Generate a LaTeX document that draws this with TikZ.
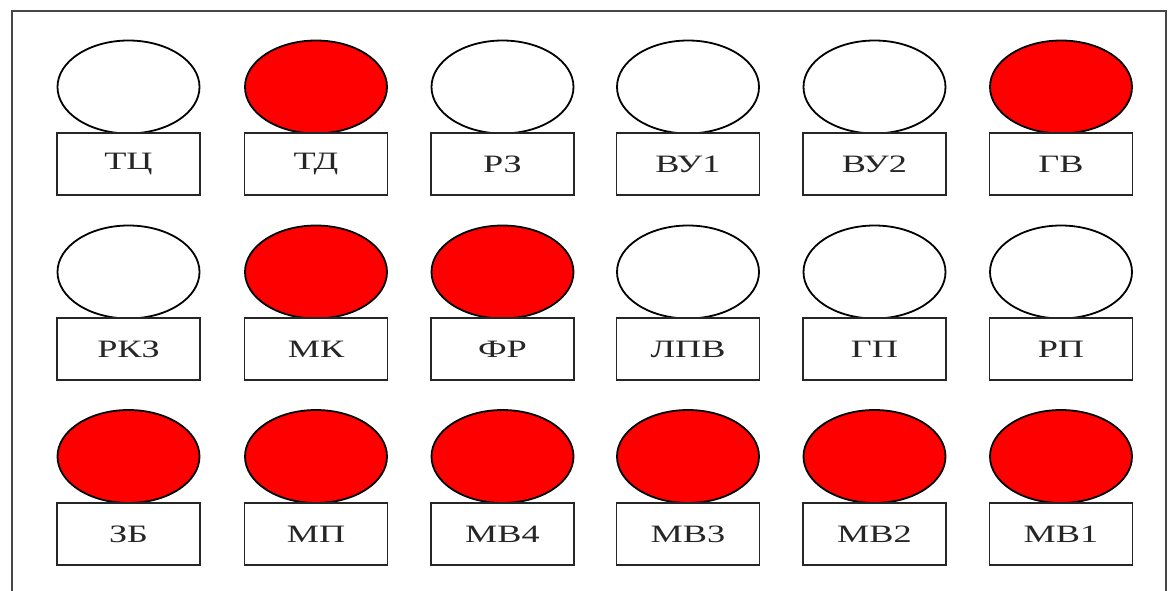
\documentclass[tikz,border=0pt]{standalone}
\usepackage{fontspec}
\setmainfont{Liberation Serif}
\newfontfamily\labfont[FakeStretch=1.45]{Liberation Serif}
\usetikzlibrary{shapes.geometric}
\definecolor{lampred}{RGB}{255,0,0}
\definecolor{framegray}{RGB}{70,70,70}
\tikzset{
  lamp/.style={ellipse, draw=black, line width=1.8pt, minimum width=142pt, minimum height=93pt, inner sep=0pt},
  lampoff/.style={lamp, fill=white},
  lampon/.style={lamp, fill=lampred},
  tag/.style={rectangle, draw=black!85, line width=1.8pt, fill=white, minimum width=143pt, minimum height=62pt, inner sep=0pt, font=\labfont\fontsize{25}{28}\selectfont, text=black!85},
  framestyle/.style={draw=framegray, line width=2.5pt}
}
\begin{document}
\begin{tikzpicture}[x=1pt,y=-1pt]
\useasboundingbox (0,0) rectangle (1176,591);
\fill[white] (0,0) rectangle (1176,591);
% frame (open at bottom)
\coordinate (fbl) at (12,591);
\coordinate (ftl) at (12,11);
\coordinate (ftr) at (1166,11);
\coordinate (fbr) at (1166,591);
\draw[framestyle] (fbl) -- (ftl) -- (ftr) -- (fbr);
% row 1
\node[lampoff] (l11) at (128.5,87) {};
\node[lampon]  (l12) at (316,87) {};
\node[lampoff] (l13) at (502.5,87) {};
\node[lampoff] (l14) at (688,87) {};
\node[lampoff] (l15) at (874.5,87) {};
\node[lampon]  (l16) at (1061,87) {};
\node[tag] (t11) at (128.5,164) {ТЦ};
\node[tag] (t12) at (316,164) {ТД};
\node[tag] (t13) at (502.5,164) {РЗ};
\node[tag] (t14) at (688,164) {ВУ1};
\node[tag] (t15) at (874.5,164) {ВУ2};
\node[tag] (t16) at (1061,164) {ГВ};
% row 2
\node[lampoff] (l21) at (128.5,272) {};
\node[lampon]  (l22) at (316,272) {};
\node[lampon]  (l23) at (502.5,272) {};
\node[lampoff] (l24) at (688,272) {};
\node[lampoff] (l25) at (874.5,272) {};
\node[lampoff] (l26) at (1061,272) {};
\node[tag] (t21) at (128.5,349) {РКЗ};
\node[tag] (t22) at (316,349) {МК};
\node[tag] (t23) at (502.5,349) {ФР};
\node[tag] (t24) at (688,349) {ЛПВ};
\node[tag] (t25) at (874.5,349) {ГП};
\node[tag] (t26) at (1061,349) {РП};
% row 3
\node[lampon] (l31) at (128.5,456.5) {};
\node[lampon] (l32) at (316,456.5) {};
\node[lampon] (l33) at (502.5,456.5) {};
\node[lampon] (l34) at (688,456.5) {};
\node[lampon] (l35) at (874.5,456.5) {};
\node[lampon] (l36) at (1061,456.5) {};
\node[tag] (t31) at (128.5,534) {ЗБ};
\node[tag] (t32) at (316,534) {МП};
\node[tag] (t33) at (502.5,534) {МВ4};
\node[tag] (t34) at (688,534) {МВ3};
\node[tag] (t35) at (874.5,534) {МВ2};
\node[tag] (t36) at (1061,534) {МВ1};
\end{tikzpicture}
\end{document}
